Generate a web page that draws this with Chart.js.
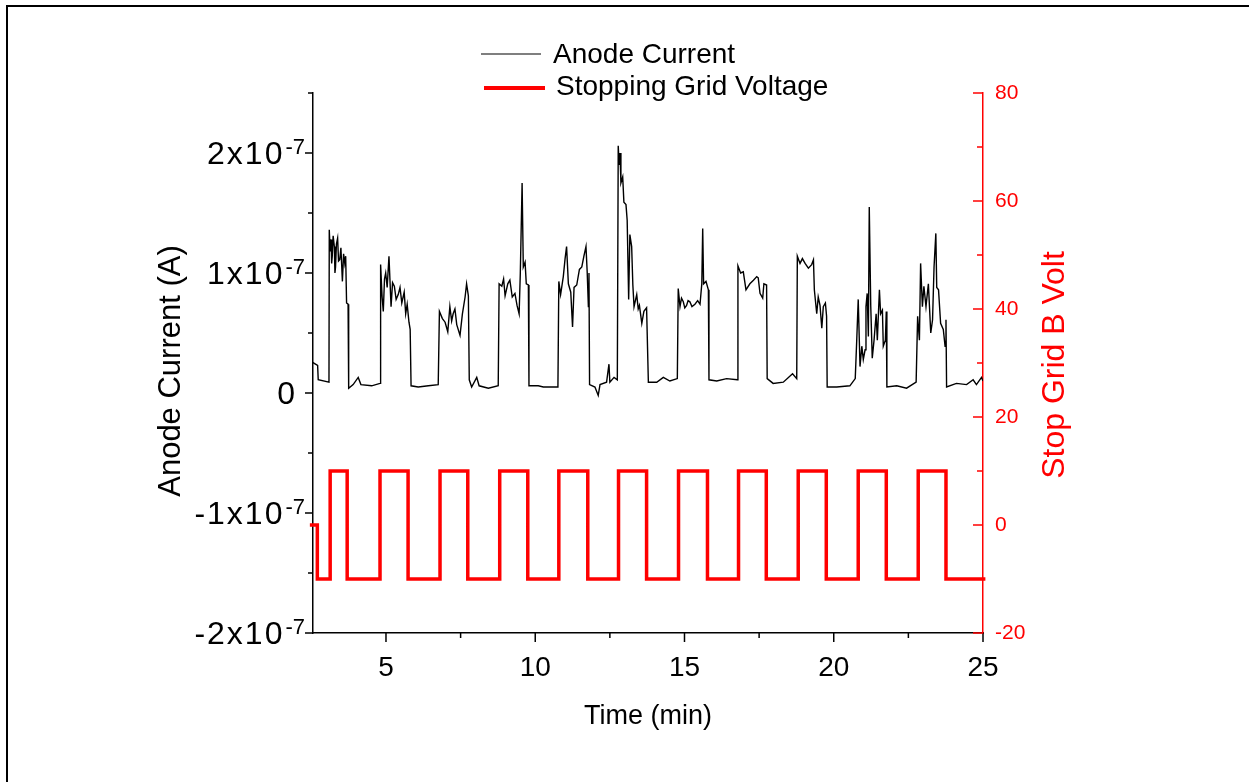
<!DOCTYPE html>
<html>
<head>
<meta charset="utf-8">
<title>Anode Current / Stopping Grid Voltage</title>
<script src="https://cdn.jsdelivr.net/npm/chart.js@4.4.1/dist/chart.umd.min.js"></script>
<style>
  html, body { margin: 0; padding: 0; background: #fff; }
  #wrap { position: relative; width: 1249px; height: 782px; overflow: hidden; }
  #frame { position: absolute; left: 6px; top: 5px; width: 1300px; height: 800px;
           border-left: 2px solid #000; border-top: 2px solid #000; }
  #chart { position: absolute; left: 0; top: 0; }
</style>
</head>
<body>
<div id="wrap">
  <div id="frame"></div>
  <canvas id="chart" width="1249" height="782"></canvas>
</div>
<script>
// --- data ---
// anode current, time in minutes, current in nA (1e-9 A)
const currentTime = [
  2.51, 2.71, 2.73, 3.09, 3.10, 3.13, 3.16, 3.18, 3.20, 3.23, 3.27, 3.29, 3.31, 3.34, 3.38, 3.41, 3.45, 3.49, 3.54, 3.58, 3.62, 3.65, 3.68, 3.73, 3.75,
  3.90, 4.07, 4.16, 4.52, 4.80,
  4.82, 4.87, 4.91, 4.95, 4.99, 5.04, 5.10, 5.17, 5.22, 5.28, 5.34, 5.41, 5.47, 5.53, 5.61, 5.66, 5.71, 5.77, 5.81, 5.84,
  6.08, 6.42, 6.75,
  6.79, 6.89, 6.98, 7.07, 7.14, 7.20, 7.25, 7.31, 7.37, 7.48, 7.56, 7.65, 7.70, 7.76, 7.79,
  7.87, 8.04, 8.12, 8.43, 8.76,
  8.79, 8.88, 8.94, 8.99, 9.08, 9.15, 9.23, 9.32, 9.39, 9.46, 9.50, 9.56, 9.60, 9.66, 9.70, 9.77, 9.79,
  10.10, 10.27, 10.76,
  10.79, 10.85, 10.94, 11.00, 11.05, 11.11, 11.19, 11.25, 11.30, 11.39, 11.48, 11.56, 11.63, 11.70, 11.74, 11.78, 11.80, 11.82,
  12.00, 12.11, 12.17, 12.39, 12.47, 12.50, 12.64, 12.75,
  12.78, 12.81, 12.84, 12.87, 12.93, 12.97, 13.04, 13.08, 13.13, 13.17, 13.23, 13.27, 13.31, 13.40, 13.45, 13.49, 13.57, 13.64, 13.73, 13.79,
  14.07, 14.29, 14.51, 14.76,
  14.79, 14.85, 14.90, 14.96, 15.01, 15.07, 15.12, 15.18, 15.25, 15.35, 15.44, 15.52, 15.58, 15.61, 15.64, 15.72, 15.80, 15.82,
  16.08, 16.41, 16.77,
  16.79, 16.88, 16.97, 17.06, 17.19, 17.31, 17.42, 17.47, 17.53, 17.62, 17.66, 17.75, 17.77,
  17.97, 18.31, 18.62, 18.76,
  18.78, 18.87, 18.95, 19.04, 19.15, 19.26, 19.32, 19.35, 19.43, 19.48, 19.54, 19.60, 19.65, 19.72, 19.76, 19.78,
  20.10, 20.54, 20.72,
  20.77, 20.82, 20.88, 20.94, 20.99, 21.05, 21.08, 21.12, 21.16, 21.19, 21.24, 21.29, 21.35, 21.42, 21.46, 21.53, 21.57, 21.63, 21.66, 21.73, 21.76, 21.78,
  22.11, 22.44, 22.76,
  22.81, 22.87, 22.91, 22.97, 23.02, 23.09, 23.17, 23.25, 23.31, 23.36, 23.42, 23.45, 23.51, 23.58, 23.67, 23.73, 23.76, 23.78,
  24.11, 24.45, 24.67, 24.78, 24.95, 25.00
];
const currentNanoAmp = [
  26, 23, 11, 9, 136, 118, 128, 108, 114, 131, 122, 100, 105, 124, 129, 110, 111, 121, 93, 116, 108, 114, 75, 74, 4,
  7, 13, 7, 6, 8,
  107, 80, 68, 95, 100, 88, 114, 72, 92, 89, 78, 82, 88, 75, 84, 66, 74, 59, 53, 6,
  5, 6, 7,
  68, 62, 59, 51, 72, 60, 66, 70, 57, 48, 66, 80, 91, 81, 11,
  5, 13, 6, 4, 6,
  91, 89, 95, 81, 91, 94, 80, 83, 73, 66, 100, 175, 105, 109, 91, 90, 6,
  6, 5, 5,
  93, 82, 97, 112, 122, 91, 84, 55, 88, 90, 103, 105, 114, 122, 101, 72, 100, 7,
  5, -2, 7, 9, 24, 9, 13, 11,
  206, 190, 200, 175, 180, 159, 157, 144, 78, 132, 122, 90, 72, 82, 70, 73, 58, 68, 71, 9,
  9, 13, 10, 12,
  87, 72, 79, 76, 71, 73, 77, 76, 72, 74, 77, 74, 91, 137, 91, 93, 86, 11,
  10, 12, 11,
  106, 100, 101, 86, 91, 94, 97, 96, 83, 79, 91, 90, 12,
  8, 9, 16, 12,
  114, 108, 112, 108, 104, 107, 111, 86, 66, 80, 73, 54, 72, 75, 64, 5,
  5, 6, 12,
  44, 78, 22, 39, 28, 36, 72, 83, 47, 155, 72, 29, 44, 66, 44, 86, 66, 69, 39, 44, 68, 5,
  6, 4, 9,
  64, 44, 108, 72, 89, 72, 91, 50, 61, 105, 133, 88, 86, 58, 53, 39, 61, 5,
  8, 7, 11, 7, 13, 10
];

// stopping grid voltage (V), value holds from each time until the next
const stepTime = [2.45, 2.70, 3.13, 3.70, 4.80, 5.74, 6.81, 7.74, 8.81, 9.75, 10.79, 11.76,
                  12.79, 13.73, 14.80, 15.77, 16.81, 17.74, 18.81, 19.75, 20.82, 21.76, 22.83, 23.76, 25.08];
const stepVolt = [0, -10, 10, -10, 10, -10, 10, -10, 10, -10, 10, -10,
                  10, -10, 10, -10, 10, -10, 10, -10, 10, -10, 10, -10, -10];

// left axis tick labels (value in nA -> text with exponent)
const leftTickValues = [-200, -100, 0, 100, 200];
const leftTickBase = ['-2x10', '-1x10', '0', '1x10', '2x10'];
const leftTickExp = ['-7', '-7', '', '-7', '-7'];

const FONT = '"Liberation Sans", Arial, Helvetica, sans-serif';
const RED = '#ff0000';

// --- extra drawing: ticks (major/minor, inward on the right), superscript labels, titles, legend ---
const axisDecor = {
  id: 'axisDecor',
  afterDraw(chart) {
    const { ctx, chartArea: a, scales } = chart;
    ctx.save();

    const line = (x1, y1, x2, y2) => {
      ctx.beginPath(); ctx.moveTo(x1, y1); ctx.lineTo(x2, y2); ctx.stroke();
    };

    // x ticks, pointing down
    ctx.strokeStyle = '#000';
    ctx.lineWidth = 1.5;
    scales.x.ticks.forEach(t => {
      const px = scales.x.getPixelForValue(t.value);
      line(px, a.bottom, px, a.bottom + (t.value % 5 === 0 ? 9 : 5));
    });
    // left ticks, pointing out
    scales.y.ticks.forEach(t => {
      const py = scales.y.getPixelForValue(t.value);
      line(a.left - (t.value % 100 === 0 ? 8 : 5), py, a.left, py);
    });
    // right ticks, pointing into the plot
    ctx.strokeStyle = RED;
    scales.y1.ticks.forEach(t => {
      const py = scales.y1.getPixelForValue(t.value);
      line(a.right - (t.value % 20 === 0 ? 10 : 6), py, a.right, py);
    });

    // left tick labels with superscript exponent
    ctx.fillStyle = '#000';
    ctx.textBaseline = 'alphabetic';
    ctx.textAlign = 'left';
    leftTickValues.forEach((v, i) => {
      const py = scales.y.getPixelForValue(v);
      const hasExp = leftTickExp[i] !== '';
      ctx.letterSpacing = '0px';
      ctx.font = `22px ${FONT}`;
      const expW = ctx.measureText(leftTickExp[i]).width;
      ctx.font = `32px ${FONT}`;
      ctx.letterSpacing = hasExp ? '2px' : '0px';
      const baseW = ctx.measureText(leftTickBase[i]).width;
      const right = hasExp ? a.left - 8 : a.left - 18;
      const x0 = right - expW - baseW - (hasExp ? 1 : 0);
      ctx.fillText(leftTickBase[i], x0, py + 11);
      if (hasExp) {
        ctx.letterSpacing = '0px';
        ctx.font = `22px ${FONT}`;
        ctx.fillText(leftTickExp[i], x0 + baseW + 1, py + 1);
      }
    });
    ctx.letterSpacing = '0px';

    // left axis title
    ctx.save();
    ctx.fillStyle = '#000';
    ctx.font = `31px ${FONT}`;
    ctx.textAlign = 'center';
    ctx.textBaseline = 'middle';
    ctx.translate(171, 371);
    ctx.rotate(-Math.PI / 2);
    ctx.fillText('Anode Current (A)', 0, 0);
    ctx.restore();

    // right axis title, reading bottom to top
    ctx.save();
    ctx.fillStyle = RED;
    ctx.font = `32px ${FONT}`;
    ctx.textAlign = 'center';
    ctx.textBaseline = 'middle';
    ctx.translate(1055, 365);
    ctx.rotate(-Math.PI / 2);
    ctx.fillText('Stop Grid B Volt', 0, 0);
    ctx.restore();

    // legend
    const ds = chart.data.datasets;
    ctx.textAlign = 'left';
    ctx.textBaseline = 'middle';
    ctx.font = `28px ${FONT}`;
    ctx.strokeStyle = '#555';
    ctx.lineWidth = 1.3;
    line(481, 54, 541, 54);
    ctx.fillStyle = '#000';
    ctx.fillText(ds[0].label, 553, 55);
    ctx.strokeStyle = RED;
    ctx.lineWidth = 4;
    line(484, 88, 545, 88);
    ctx.fillText(ds[1].label, 556, 87);

    ctx.restore();
  }
};

new Chart(document.getElementById('chart'), {
  type: 'line',
  data: {
    datasets: [
      {
        label: 'Anode Current',
        data: currentTime.map((t, i) => ({ x: t, y: currentNanoAmp[i] })),
        yAxisID: 'y',
        borderColor: '#000',
        borderWidth: 1.4,
        pointRadius: 0,
        tension: 0
      },
      {
        label: 'Stopping Grid Voltage',
        data: stepTime.map((t, i) => ({ x: t, y: stepVolt[i] })),
        yAxisID: 'y1',
        borderColor: RED,
        borderWidth: 3.5,
        stepped: true,
        pointRadius: 0,
        clip: { left: 5, top: 0, right: 3, bottom: 0 }
      }
    ]
  },
  options: {
    responsive: false,
    animation: false,
    devicePixelRatio: 1,
    layout: { padding: { top: 93, left: 0, right: 0, bottom: 0 } },
    plugins: {
      legend: { display: false },
      tooltip: { enabled: false }
    },
    scales: {
      x: {
        type: 'linear',
        position: 'bottom',
        min: 2.555,
        max: 25,
        grid: { drawOnChartArea: false, drawTicks: false },
        border: { color: '#000', width: 1.5 },
        ticks: {
          stepSize: 2.5,
          includeBounds: false,
          autoSkip: false,
          maxRotation: 0,
          padding: 18,
          color: '#000',
          font: { family: FONT, size: 28 },
          callback: v => (v % 5 === 0 ? String(v) : '')
        },
        title: {
          display: true,
          text: 'Time (min)',
          color: '#000',
          font: { family: FONT, size: 27 },
          padding: { top: 0, bottom: 49 }
        },
        afterFit: s => { s.height = 149; }
      },
      y: {
        type: 'linear',
        position: 'left',
        min: -200,
        max: 250,
        grid: { drawOnChartArea: false, drawTicks: false },
        border: { color: '#000', width: 1.5 },
        ticks: { stepSize: 50, callback: () => '' },
        afterFit: s => { s.width = 313; }
      },
      y1: {
        type: 'linear',
        position: 'right',
        min: -20,
        max: 80,
        grid: { drawOnChartArea: false, drawTicks: false },
        border: { color: RED, width: 1.5 },
        ticks: {
          stepSize: 10,
          padding: 12,
          color: RED,
          font: { family: FONT, size: 21 },
          callback: v => (v % 20 === 0 ? String(v) : '')
        },
        afterFit: s => { s.width = 266; }
      }
    }
  },
  plugins: [axisDecor]
});
</script>
</body>
</html>
